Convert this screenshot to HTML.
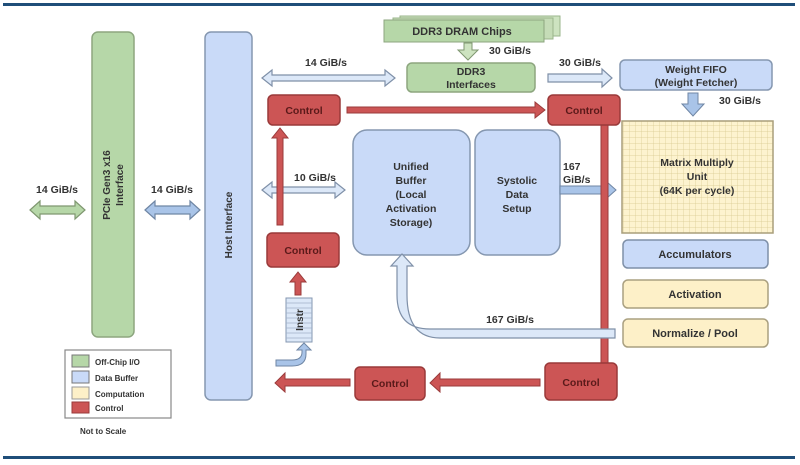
<!DOCTYPE html>
<html><head><meta charset="utf-8"><style>
html,body{margin:0;padding:0;background:#fff;}
svg{display:block;font-family:"Liberation Sans",sans-serif;font-weight:bold;}
</style></head><body>
<svg width="800" height="465" viewBox="0 0 800 465">
<defs>
<pattern id="grid" width="6" height="6" patternUnits="userSpaceOnUse">
<rect width="6" height="6" fill="#fdf3cf"/>
<path d="M6 0V6M0 6H6" stroke="#d8c98f" stroke-width="0.7" fill="none"/>
</pattern>
</defs>
<rect x="3" y="3" width="792" height="3" fill="#1f4e79"/>
<rect x="3" y="456" width="792" height="3" fill="#1f4e79"/>

<!-- PCIe -->
<rect x="92" y="32" width="42" height="305" rx="6" fill="#b6d7a8" stroke="#8da67f" stroke-width="1.5"/>
<text transform="translate(110,185) rotate(-90)" font-size="10" text-anchor="middle" fill="#333">PCIe Gen3 x16</text>
<text transform="translate(123,185) rotate(-90)" font-size="10" text-anchor="middle" fill="#333">Interface</text>
<!-- Host -->
<rect x="205" y="32" width="47" height="368" rx="6" fill="#c9daf8" stroke="#8597b0" stroke-width="1.5"/>
<text transform="translate(232,225) rotate(-90)" font-size="10" text-anchor="middle" fill="#333">Host Interface</text>

<!-- left arrows -->
<text x="57" y="193" font-size="10.5" text-anchor="middle" fill="#333">14 GiB/s</text>
<path d="M30 210 L40 201 L40 206 L75 206 L75 201 L85 210 L75 219 L75 214 L40 214 L40 219Z" fill="#b6d7a8" stroke="#7f9770" stroke-width="1.2"/>
<text x="172" y="193" font-size="10.5" text-anchor="middle" fill="#333">14 GiB/s</text>
<path d="M145 210 L155 201 L155 206 L190 206 L190 201 L200 210 L190 219 L190 214 L155 214 L155 219Z" fill="#a9c4e8" stroke="#6f86a4" stroke-width="1.2"/>

<!-- top 14 -->
<text x="326" y="66" font-size="10.5" text-anchor="middle" fill="#333">14 GiB/s</text>
<path d="M262 78 L272 70 L272 75 L385 75 L385 70 L395 78 L385 86 L385 81 L272 81 L272 86Z" fill="#dce8f8" stroke="#7f90a8" stroke-width="1.2"/>
<!-- 10 -->
<text x="315" y="181" font-size="10.5" text-anchor="middle" fill="#333">10 GiB/s</text>
<path d="M262 190 L272 182 L272 187 L335 187 L335 182 L345 190 L335 198 L335 193 L272 193 L272 198Z" fill="#dce8f8" stroke="#7f90a8" stroke-width="1.2"/>

<!-- DDR3 chips -->
<rect x="400" y="16" width="160" height="20" fill="#cde3c0" stroke="#9ab58b"/>
<rect x="393" y="18" width="160" height="21" fill="#c5dcb7" stroke="#9ab58b"/>
<rect x="384" y="20" width="160" height="22" fill="#b6d7a8" stroke="#8da67f"/>
<text x="462" y="35" font-size="11" text-anchor="middle" fill="#333">DDR3 DRAM Chips</text>
<path d="M464 43 L472 43 L472 50 L478 50 L468 60 L458 50 L464 50Z" fill="#cde3c0" stroke="#7f9770"/>
<text x="510" y="54" font-size="10.5" text-anchor="middle" fill="#333">30 GiB/s</text>
<rect x="407" y="63" width="128" height="29" rx="5" fill="#b6d7a8" stroke="#8da67f" stroke-width="1.5"/>
<text x="471" y="75" font-size="10.5" text-anchor="middle" fill="#333">DDR3</text>
<text x="471" y="88" font-size="10.5" text-anchor="middle" fill="#333">Interfaces</text>

<text x="580" y="66" font-size="10.5" text-anchor="middle" fill="#333">30 GiB/s</text>
<path d="M548 74 L602 74 L602 69 L612 78 L602 87 L602 82 L548 82Z" fill="#dce8f8" stroke="#7f90a8" stroke-width="1.2"/>
<rect x="620" y="60" width="152" height="30" rx="5" fill="#c9daf8" stroke="#8597b0" stroke-width="1.5"/>
<text x="696" y="73" font-size="10.5" text-anchor="middle" fill="#333">Weight FIFO</text>
<text x="696" y="86" font-size="10.5" text-anchor="middle" fill="#333">(Weight Fetcher)</text>
<path d="M688 93 L698 93 L698 104 L704 104 L693 116 L682 104 L688 104Z" fill="#a9c4e8" stroke="#6f86a4"/>
<text x="740" y="104" font-size="10.5" text-anchor="middle" fill="#333">30 GiB/s</text>

<!-- matrix -->
<rect x="622" y="121" width="151" height="112" fill="url(#grid)" stroke="#a99e7a" stroke-width="1.5"/>
<text x="697" y="166" font-size="10.5" text-anchor="middle" fill="#333">Matrix Multiply</text>
<text x="697" y="180" font-size="10.5" text-anchor="middle" fill="#333">Unit</text>
<text x="697" y="194" font-size="10.5" text-anchor="middle" fill="#333">(64K per cycle)</text>
<rect x="623" y="240" width="145" height="28" rx="5" fill="#c9daf8" stroke="#7f90a8" stroke-width="1.5"/>
<text x="695" y="258" font-size="11" text-anchor="middle" fill="#333">Accumulators</text>
<rect x="623" y="280" width="145" height="28" rx="5" fill="#fdf0c8" stroke="#aaa080" stroke-width="1.5"/>
<text x="695" y="298" font-size="11" text-anchor="middle" fill="#333">Activation</text>
<rect x="623" y="319" width="145" height="28" rx="5" fill="#fdf0c8" stroke="#aaa080" stroke-width="1.5"/>
<text x="695" y="337" font-size="11" text-anchor="middle" fill="#333">Normalize / Pool</text>

<!-- buffers -->
<rect x="353" y="130" width="117" height="125" rx="14" fill="#c9daf8" stroke="#8597b0" stroke-width="1.5"/>
<text x="411" y="170" font-size="10.5" text-anchor="middle" fill="#333">Unified</text>
<text x="411" y="184" font-size="10.5" text-anchor="middle" fill="#333">Buffer</text>
<text x="411" y="198" font-size="10.5" text-anchor="middle" fill="#333">(Local</text>
<text x="411" y="212" font-size="10.5" text-anchor="middle" fill="#333">Activation</text>
<text x="411" y="226" font-size="10.5" text-anchor="middle" fill="#333">Storage)</text>
<rect x="475" y="130" width="85" height="125" rx="12" fill="#c9daf8" stroke="#8597b0" stroke-width="1.5"/>
<text x="517" y="184" font-size="10.5" text-anchor="middle" fill="#333">Systolic</text>
<text x="517" y="198" font-size="10.5" text-anchor="middle" fill="#333">Data</text>
<text x="517" y="212" font-size="10.5" text-anchor="middle" fill="#333">Setup</text>
<text x="563" y="170" font-size="10.5" fill="#333">167</text>
<text x="563" y="183" font-size="10.5" fill="#333">GiB/s</text>
<path d="M560 186 L607 186 L607 182 L616 190 L607 198 L607 194 L560 194Z" fill="#a9c4e8" stroke="#6f86a4"/>

<!-- red line -->
<rect x="601" y="125" width="7" height="240" fill="#cc5555" stroke="#9a3a3a"/>

<!-- 167 curved -->
<path d="M615 329 L430 329 Q397 329 397 295 L397 266 L391 266 L402 254 L413 266 L407 266 L407 295 Q407 338 440 338 L615 338Z" fill="#dce8f8" stroke="#7f90a8" stroke-width="1.2"/>
<text x="510" y="323" font-size="10.5" text-anchor="middle" fill="#333">167 GiB/s</text>

<!-- controls -->
<g fill="#cc5555" stroke="#9a3a3a" stroke-width="1.5">
<rect x="268" y="95" width="72" height="30" rx="5"/>
<rect x="548" y="95" width="72" height="30" rx="5"/>
<rect x="267" y="233" width="72" height="34" rx="5"/>
<rect x="355" y="367" width="70" height="33" rx="5"/>
<rect x="545" y="363" width="72" height="37" rx="5"/>
</g>
<g fill="#cc5555" stroke="#9a3a3a" stroke-width="1">
<path d="M347 107 L535 107 L535 102 L545 110 L535 118 L535 113 L347 113Z"/>
<path d="M277 225 L277 138 L272 138 L280 128 L288 138 L283 138 L283 225Z"/>
<path d="M295 295 L295 282 L290 282 L298 272 L306 282 L301 282 L301 295Z"/>
<path d="M540 379 L440 379 L440 373 L430 383 L440 392 L440 386 L540 386Z"/>
<path d="M350 379 L285 379 L285 373 L275 383 L285 392 L285 386 L350 386Z"/>
</g>
<g font-size="10.5" text-anchor="middle" fill="#5a1a1a">
<text x="304" y="114">Control</text>
<text x="584" y="114">Control</text>
<text x="303" y="254">Control</text>
<text x="390" y="387">Control</text>
<text x="581" y="386">Control</text>
</g>

<!-- instr -->
<rect x="286" y="298" width="26" height="44" fill="#dce8f8" stroke="#8597b0"/>
<g stroke="#a0b0c8" stroke-width="0.7"><path d="M286 303H312M286 308H312M286 313H312M286 318H312M286 323H312M286 328H312M286 333H312M286 338H312"/></g>
<text transform="translate(303,320) rotate(-90)" font-size="10" text-anchor="middle" fill="#333">Instr</text>
<path d="M276 360 L292 360 Q302 360 302 352 L302 350 L297 350 L304 343 L311 350 L306 350 L306 354 Q306 366 292 366 L276 366Z" fill="#a9c4e8" stroke="#6f86a4"/>

<!-- legend -->
<rect x="65" y="350" width="106" height="68" fill="#fff" stroke="#888" stroke-width="1.2"/>
<rect x="72" y="355" width="17" height="12" fill="#b6d7a8" stroke="#777"/>
<rect x="72" y="371" width="17" height="12" fill="#c9daf8" stroke="#777"/>
<rect x="72" y="387" width="17" height="12" fill="#fdf0c8" stroke="#999"/>
<rect x="72" y="402" width="17" height="11" fill="#cc5555" stroke="#9a3a3a"/>
<g font-size="8" fill="#333">
<text x="95" y="365">Off-Chip I/O</text>
<text x="95" y="381">Data Buffer</text>
<text x="95" y="397">Computation</text>
<text x="95" y="411">Control</text>
</g>
<text x="80" y="434" font-size="8" fill="#333">Not to Scale</text>
</svg>
</body></html>
